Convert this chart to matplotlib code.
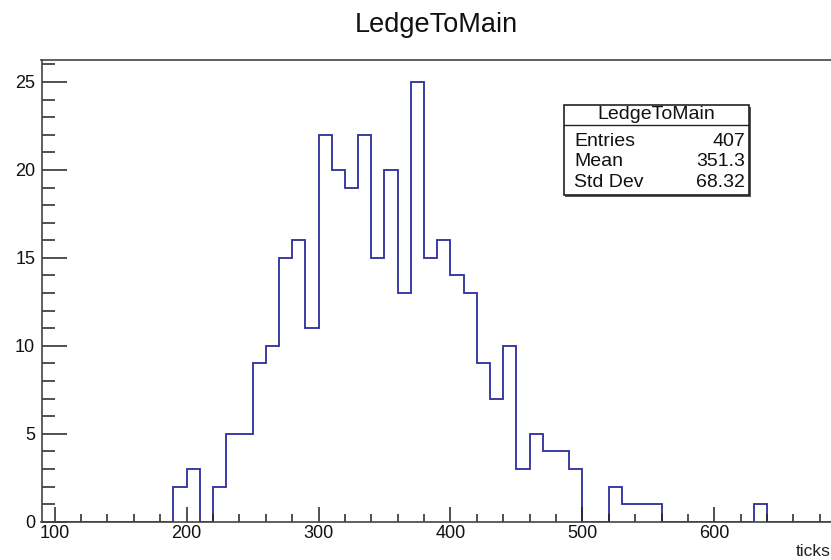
import matplotlib.pyplot as plt
from matplotlib.patches import Rectangle
from matplotlib.ticker import MultipleLocator
import numpy as np

plt.rcParams['font.family'] = ['Liberation Sans', 'DejaVu Sans']

title = "LedgeToMain"
x_label = "ticks"
# bins of width 10 from 90 to 690
bin_edges = np.arange(90, 700, 10)
counts = [0, 0, 0, 0, 0, 0, 0, 0, 0, 0,
          2, 3, 0, 2, 5, 5, 9, 10, 15, 16,
          11, 22, 20, 19, 22, 15, 20, 13, 25, 15,
          16, 14, 13, 9, 7, 10, 3, 5, 4, 4,
          3, 0, 0, 2, 1, 1, 1, 0, 0, 0,
          0, 0, 0, 0, 1, 0, 0, 0, 0, 0]
stats_labels = ["Entries", "Mean", "Std Dev"]
stats_values = ["407", "351.3", "68.32"]

W, H = 831, 560
fig = plt.figure(figsize=(W / 100, H / 100), dpi=100)

# frame in pixels: left 41.5, right 833, top 60, bottom 521.7
ax = fig.add_axes([41.5 / W, (H - 521.7) / H, (833 - 41.5) / W, (521.7 - 60) / H])
ax.stairs(counts, bin_edges, color='#2d2d9c', linewidth=1.3, baseline=0)
ax.set_xlim(90, 690)
ax.set_ylim(0, 1.05 * max(counts))

ax.xaxis.set_major_locator(MultipleLocator(100))
ax.xaxis.set_minor_locator(MultipleLocator(20))
ax.yaxis.set_major_locator(MultipleLocator(5))
ax.yaxis.set_minor_locator(MultipleLocator(1))
ax.tick_params(axis='x', which='major', direction='in', length=11, width=1.1,
               labelsize=13, pad=2.5, colors='#222222', labelcolor='#111111')
ax.tick_params(axis='x', which='minor', direction='in', length=5.5, width=1.1,
               colors='#222222')
ax.tick_params(axis='y', which='major', direction='in', length=18, width=1.1,
               labelsize=13, pad=4.5, colors='#222222', labelcolor='#111111')
ax.tick_params(axis='y', which='minor', direction='in', length=9.5, width=1.1,
               colors='#222222')
for s in ax.spines.values():
    s.set_color('#444444')
    s.set_linewidth(1.2)

fig.text(436 / W, 1 - 25 / H, title, ha='center', va='center', fontsize=19.5,
         color='#111111')
fig.text(831 / W, 1 - 552 / H, x_label, ha='right', va='center', fontsize=12.5,
         color='#222222')

# stats box
bx0, bx1, by0, by1 = 563.5, 749, 105, 195
fig.patches.append(Rectangle((bx0 / W + 1.5 / W, 1 - by1 / H - 1.5 / H),
                             (bx1 - bx0) / W, (by1 - by0) / H,
                             transform=fig.transFigure, facecolor='#555555',
                             edgecolor='none', zorder=4))
fig.patches.append(Rectangle((bx0 / W, 1 - by1 / H), (bx1 - bx0) / W,
                             (by1 - by0) / H, transform=fig.transFigure,
                             facecolor='white', edgecolor='#222222',
                             linewidth=1.2, zorder=5))
fig.add_artist(plt.Line2D([bx0 / W, bx1 / W], [1 - 124.5 / H, 1 - 124.5 / H],
                          transform=fig.transFigure, color='#222222',
                          linewidth=1.0, zorder=6))
fig.text((bx0 + bx1) / 2 / W, 1 - 114.5 / H, title, ha='center', va='center',
         fontsize=14, color='#111111', zorder=7)
row_y = [141.7, 161.7, 182.3]
for lab, val, yy in zip(stats_labels, stats_values, row_y):
    fig.text(574 / W, 1 - yy / H, lab, ha='left', va='center', fontsize=14,
             color='#111111', zorder=7)
    fig.text(745 / W, 1 - yy / H, val, ha='right', va='center', fontsize=14,
             color='#111111', zorder=7)

fig.savefig("out.png", dpi=100, facecolor='white')
